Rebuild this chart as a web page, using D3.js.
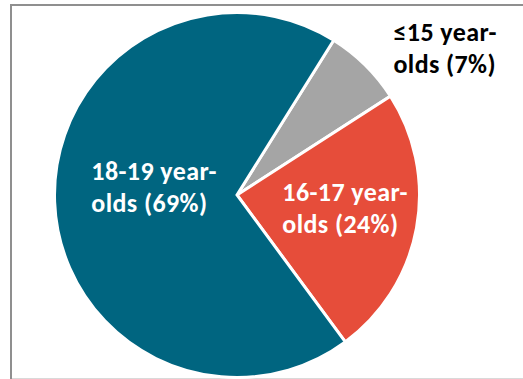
<!DOCTYPE html>
<html>
<head>
<meta charset="utf-8">
<script src="https://cdn.jsdelivr.net/npm/d3@7"></script>
<style>
  html, body { margin: 0; padding: 0; background: #fff; }
  svg { display: block; }
  .lbl { font-family: Calibri, Carlito, Lato, "Open Sans", sans-serif; font-weight: 800; }
</style>
</head>
<body>
<svg id="chart" width="523" height="379"></svg>
<script>
// Age groups, in clockwise order starting from the first slice
const categories = ["≤15 year-olds", "16-17 year-olds", "18-19 year-olds"];
const labelLines = [["≤15 year-", "olds (7%)"], ["16-17 year-", "olds (24%)"], ["18-19 year-", "olds (69%)"]];
const shares = [7, 24, 69];
const colors = ["#A5A5A5", "#E64D3A", "#006580"];
const textColors = ["#000000", "#ffffff", "#ffffff"];

const W = 523, H = 379;
const cx = 237, cy = 195, R = 182.5;
const firstSliceDeg = 32;

const svg = d3.select("#chart");

// Chart frame
svg.append("line").attr("x1", 11).attr("x2", 11).attr("y1", 4).attr("y2", 379)
  .attr("stroke", "#8f8f8f").attr("stroke-width", 2);
svg.append("line").attr("x1", 10).attr("x2", W).attr("y1", 5).attr("y2", 5)
  .attr("stroke", "#8f8f8f").attr("stroke-width", 2);
svg.append("line").attr("x1", 12).attr("x2", W).attr("y1", 378.5).attr("y2", 378.5)
  .attr("stroke", "#d9d9d9").attr("stroke-width", 1);

const start = firstSliceDeg * Math.PI / 180;
const pie = d3.pie().sort(null).value(d => d)
  .startAngle(start).endAngle(start + 2 * Math.PI);
const arcs = pie(shares);
const arc = d3.arc().innerRadius(0).outerRadius(R);

const g = svg.append("g").attr("transform", `translate(${cx},${cy})`);
g.selectAll("path.slice").data(arcs).join("path")
  .attr("class", "slice")
  .attr("d", arc)
  .attr("fill", (d, i) => colors[i])
  .attr("stroke", "#ffffff")
  .attr("stroke-width", 3)
  .attr("stroke-linejoin", "miter");

// Label placement: distance from centre (fraction of radius) and angle shift from the slice middle
const labelPlace = [
  { rf: 1.393, dAng: 10.3 },
  { rf: 0.596, dAng: -3.4 },
  { rf: 0.457, dAng: 7.5 }
];
const fontSize = 26;
const letterSpacing = 0.4;
const lineGap = 32;
const capH = fontSize * 0.66;

arcs.forEach((a, i) => {
  const mid = (a.startAngle + a.endAngle) / 2 + labelPlace[i].dAng * Math.PI / 180;
  const r = R * labelPlace[i].rf;
  const lx = Math.sin(mid) * r, ly = -Math.cos(mid) * r;
  const t = g.append("text").attr("class", "lbl")
    .attr("font-size", fontSize).attr("letter-spacing", letterSpacing)
    .attr("fill", textColors[i]);
  const spans = labelLines[i].map(s => t.append("tspan").text(s));
  const wMax = d3.max(spans, s => s.node().getComputedTextLength()) - letterSpacing;
  const left = lx - wMax / 2;
  const base = ly + (capH - lineGap) / 2;
  spans.forEach((s, k) => s.attr("x", left).attr("y", base + k * lineGap));
});
</script>
</body>
</html>
